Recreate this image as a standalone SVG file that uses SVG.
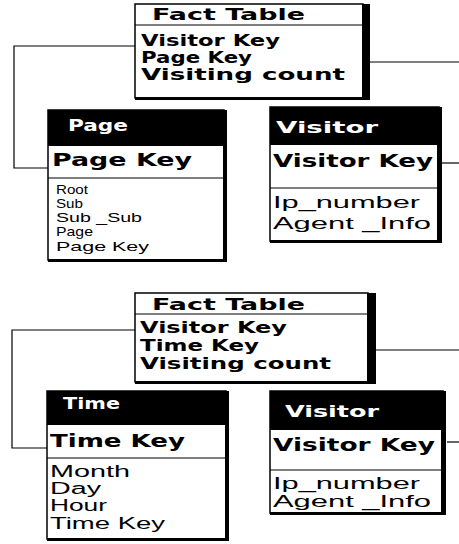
<svg xmlns="http://www.w3.org/2000/svg" width="459" height="544" viewBox="0 0 459 544">
<style>
.box{fill:#fff;stroke:#000;stroke-width:1.5}
.sh{fill:#000}
.ln{stroke:#000;stroke-width:1.2}
.conn{fill:none;stroke:#000;stroke-width:1.2}
.b{font-family:"DejaVu Sans","Liberation Sans",sans-serif;font-weight:bold;fill:#000}
.w{font-family:"DejaVu Sans","Liberation Sans",sans-serif;font-weight:bold;fill:#fff}
.r{font-family:"Liberation Sans","DejaVu Sans",sans-serif;fill:#000}
</style>
<rect width="459" height="544" fill="#fff"/>
<g id="connectors">
<polyline class="conn" points="135,46 14,46 14,168 48,168"/>
<line class="conn" x1="370" y1="62" x2="459" y2="62"/>
<line class="conn" x1="441" y1="163" x2="459" y2="163"/>
<polyline class="conn" points="135,330 12,330 12,448 47,448"/>
<line class="conn" x1="376" y1="350" x2="459" y2="350"/>
<line class="conn" x1="447" y1="442" x2="459" y2="442"/>
</g>
<g id="fact1">
<rect class="box" x="135" y="4" width="228" height="94"/>
<rect class="sh" x="362" y="4" width="8" height="96"/>
<rect class="sh" x="135" y="97" width="235" height="3"/>
<line class="ln" x1="135" y1="25" x2="363" y2="25"/>
<text class="b" x="152" y="20" font-size="15" textLength="153" lengthAdjust="spacingAndGlyphs">Fact Table</text>
<text class="b" x="141" y="46" font-size="15" textLength="139" lengthAdjust="spacingAndGlyphs">Visitor Key</text>
<text class="b" x="141" y="63" font-size="15" textLength="111" lengthAdjust="spacingAndGlyphs">Page Key</text>
<text class="b" x="141" y="80" font-size="15" textLength="204" lengthAdjust="spacingAndGlyphs">Visiting count</text>
</g>
<g id="page">
<rect class="box" x="48" y="110" width="176" height="150"/>
<rect class="sh" x="48" y="110" width="176" height="36"/>
<rect class="sh" x="223" y="110" width="4" height="152"/>
<rect class="sh" x="48" y="259" width="179" height="3"/>
<line class="ln" x1="48" y1="178" x2="224" y2="178"/>
<text class="w" x="68" y="131" font-size="16" textLength="60" lengthAdjust="spacingAndGlyphs">Page</text>
<text class="b" x="52" y="166" font-size="17" textLength="140" lengthAdjust="spacingAndGlyphs">Page Key</text>
<text class="r" x="56" y="194" font-size="13" textLength="32" lengthAdjust="spacingAndGlyphs">Root</text>
<text class="r" x="56" y="208" font-size="13" textLength="27" lengthAdjust="spacingAndGlyphs">Sub</text>
<text class="r" x="56" y="222" font-size="13" textLength="86" lengthAdjust="spacingAndGlyphs">Sub _Sub</text>
<text class="r" x="56" y="236" font-size="13" textLength="37" lengthAdjust="spacingAndGlyphs">Page</text>
<text class="r" x="56" y="251" font-size="13" textLength="93" lengthAdjust="spacingAndGlyphs">Page Key</text>
</g>
<g id="visitor1">
<rect class="box" x="270" y="107" width="169" height="134"/>
<rect class="sh" x="270" y="107" width="169" height="38"/>
<rect class="sh" x="437" y="107" width="5" height="136"/>
<rect class="sh" x="270" y="240" width="172" height="3"/>
<line class="ln" x1="270" y1="188" x2="439" y2="188"/>
<text class="w" x="276" y="133" font-size="16" textLength="102" lengthAdjust="spacingAndGlyphs">Visitor</text>
<text class="b" x="273" y="167" font-size="17" textLength="160" lengthAdjust="spacingAndGlyphs">Visitor Key</text>
<text class="r" x="273" y="208" font-size="16" textLength="147" lengthAdjust="spacingAndGlyphs">Ip_number</text>
<text class="r" x="273" y="229" font-size="16" textLength="158" lengthAdjust="spacingAndGlyphs">Agent _Info</text>
</g>
<g id="fact2">
<rect class="box" x="135" y="293" width="233" height="89"/>
<rect class="sh" x="367" y="293" width="9" height="91"/>
<rect class="sh" x="135" y="381" width="241" height="3"/>
<line class="ln" x1="135" y1="314" x2="368" y2="314"/>
<text class="b" x="152" y="310" font-size="15" textLength="153" lengthAdjust="spacingAndGlyphs">Fact Table</text>
<text class="b" x="140" y="333" font-size="15" textLength="147" lengthAdjust="spacingAndGlyphs">Visitor Key</text>
<text class="b" x="140" y="351" font-size="15" textLength="119" lengthAdjust="spacingAndGlyphs">Time Key</text>
<text class="b" x="140" y="369" font-size="15" textLength="191" lengthAdjust="spacingAndGlyphs">Visiting count</text>
</g>
<g id="time">
<rect class="box" x="47" y="391" width="179" height="148"/>
<rect class="sh" x="47" y="391" width="179" height="34"/>
<rect class="sh" x="225" y="391" width="4" height="150"/>
<rect class="sh" x="47" y="538" width="182" height="3"/>
<line class="ln" x1="47" y1="458" x2="226" y2="458"/>
<text class="w" x="63" y="409" font-size="15" textLength="57" lengthAdjust="spacingAndGlyphs">Time</text>
<text class="b" x="50" y="447" font-size="17" textLength="135" lengthAdjust="spacingAndGlyphs">Time Key</text>
<text class="r" x="50" y="477" font-size="16" textLength="80" lengthAdjust="spacingAndGlyphs">Month</text>
<text class="r" x="50" y="494" font-size="16" textLength="51" lengthAdjust="spacingAndGlyphs">Day</text>
<text class="r" x="50" y="511" font-size="16" textLength="57" lengthAdjust="spacingAndGlyphs">Hour</text>
<text class="r" x="50" y="529" font-size="16" textLength="115" lengthAdjust="spacingAndGlyphs">Time Key</text>
</g>
<g id="visitor2">
<rect class="box" x="270" y="391" width="173" height="122"/>
<rect class="sh" x="270" y="391" width="173" height="39"/>
<rect class="sh" x="441" y="391" width="5" height="124"/>
<rect class="sh" x="270" y="512" width="176" height="3"/>
<line class="ln" x1="270" y1="470" x2="443" y2="470"/>
<text class="w" x="285" y="417" font-size="16" textLength="94" lengthAdjust="spacingAndGlyphs">Visitor</text>
<text class="b" x="273" y="451" font-size="17" textLength="162" lengthAdjust="spacingAndGlyphs">Visitor Key</text>
<text class="r" x="273" y="489" font-size="16" textLength="147" lengthAdjust="spacingAndGlyphs">Ip_number</text>
<text class="r" x="273" y="507" font-size="16" textLength="158" lengthAdjust="spacingAndGlyphs">Agent _Info</text>
</g>
</svg>
